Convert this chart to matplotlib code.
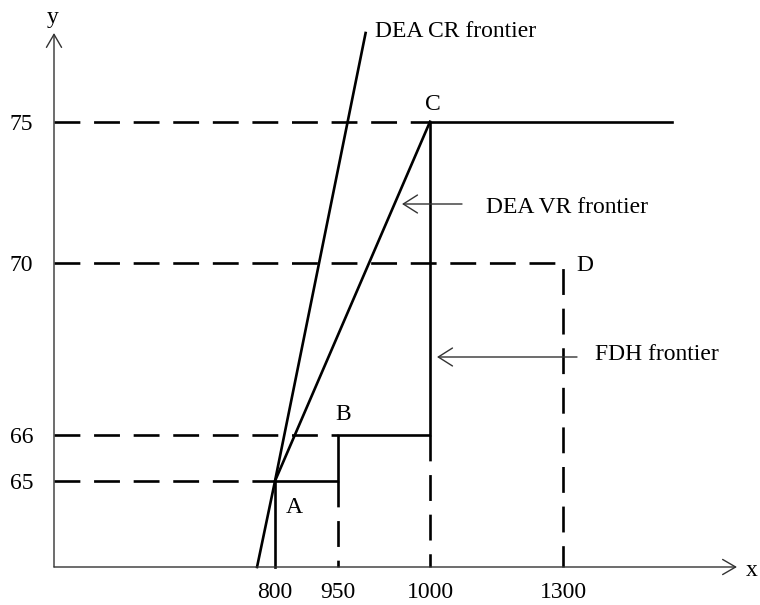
import numpy as np
import matplotlib.pyplot as plt

# point values (input x, output y)
pt_names = ['A', 'B', 'C', 'D']
pt_x = [800, 950, 1000, 1300]
pt_y = [65, 66, 75, 70]

x_ticks = [800, 950, 1000, 1300]
y_ticks = [65, 66, 70, 75]

# frontiers
fdh_x = [800, 800, 950, 950, 1000, 1000, 1500]
fdh_y = [0, 65, 65, 66, 66, 75, 75]
vr_x = [800, 1000]
vr_y = [65, 75]
cr_x = [735, 800, 965]
cr_y = [0, 65, 78.15]

# the diagram is schematic: values -> pixel positions (piecewise)
x_anchor_val = [0, 800, 950, 1000, 1300, 1620]
x_anchor_pos = [54, 275, 338, 430, 563, 737]
y_anchor_val = [0, 65, 66, 70, 75, 78.15]
y_anchor_pos = [38, 124, 170, 342.3, 483.3, 572]

W, H = 760, 605
plt.rcParams['font.family'] = ['Liberation Serif', 'DejaVu Serif']
plt.rcParams['font.size'] = 17

fig = plt.figure(figsize=(W / 100, H / 100), dpi=100)
ax = fig.add_axes([54 / W, 38 / H, (737 - 54) / W, (572 - 38) / H])

ax.set_xscale('function', functions=(lambda v: np.interp(v, x_anchor_val, x_anchor_pos),
                                     lambda p: np.interp(p, x_anchor_pos, x_anchor_val)))
ax.set_yscale('function', functions=(lambda v: np.interp(v, y_anchor_val, y_anchor_pos),
                                     lambda p: np.interp(p, y_anchor_pos, y_anchor_val)))
ax.set_xlim(0, 1620)
ax.set_ylim(0, 78.15)

lw = 1.9
dash = (0, (9.8, 5.2))
A, B, C, D = [(pt_x[i], pt_y[i]) for i in range(4)]

# dashed guide lines
ax.plot([0, A[0]], [A[1], A[1]], color='black', lw=lw, ls=dash, clip_on=False)
ax.plot([0, B[0]], [B[1], B[1]], color='black', lw=lw, ls=dash, clip_on=False)
ax.plot([0, C[0]], [C[1], C[1]], color='black', lw=lw, ls=dash, clip_on=False)
ax.plot([0, D[0], D[0]], [D[1], D[1], 0], color='black', lw=lw, ls=dash, clip_on=False)
ax.plot([B[0], B[0]], [A[1], 0], color='black', lw=lw, ls=dash, clip_on=False)
ax.plot([C[0], C[0]], [B[1], 0], color='black', lw=lw, ls=dash, clip_on=False)

# frontiers
ax.plot(fdh_x, fdh_y, color='black', lw=lw, clip_on=False)
ax.plot(vr_x, vr_y, color='black', lw=lw, clip_on=False)
ax.plot(cr_x, cr_y, color='black', lw=lw, clip_on=False)

ax.set_xticks(x_ticks, [str(v) for v in x_ticks])
ax.set_yticks(y_ticks, [str(v) for v in y_ticks])
ax.tick_params(axis='x', length=0, pad=11)
ax.tick_params(axis='y', length=0, pad=15)
for s in ax.spines.values():
    s.set_visible(False)
ax.patch.set_visible(False)

# axes with open arrow heads
axis_arrow = dict(arrowstyle='->,head_length=0.55,head_width=0.32', color='#333333', lw=1.0,
                  shrinkA=0, shrinkB=0)
ax.annotate('', xy=(0, 1), xytext=(0, 0), xycoords='axes fraction', arrowprops=axis_arrow)
ax.annotate('', xy=(1, 0), xytext=(0, 0), xycoords='axes fraction', arrowprops=axis_arrow)


def fx(x):
    return x / W


def fy(y):
    return 1 - y / H


fig.text(fx(53), fy(17), 'y', ha='center', va='center')
fig.text(fx(752), fy(570), 'x', ha='center', va='center')
fig.text(fx(375), fy(37), 'DEA CR frontier', ha='left', va='baseline')
fig.text(fx(486), fy(213), 'DEA VR frontier', ha='left', va='baseline')
fig.text(fx(595), fy(360), 'FDH frontier', ha='left', va='baseline')

# point labels
lab_pos = {'A': (294, 513), 'B': (343, 420), 'C': (433, 110), 'D': (585, 271)}
for n in pt_names:
    px, py = lab_pos[n]
    fig.text(fx(px), fy(py), n, ha='center', va='baseline')

thin_arrow = dict(arrowstyle='->,head_length=0.6,head_width=0.38', color='#333333', lw=1.0,
                  shrinkA=0, shrinkB=0)
ax.annotate('', xy=(402, H - 204), xytext=(462, H - 204), xycoords='figure pixels',
            textcoords='figure pixels', arrowprops=thin_arrow)
ax.annotate('', xy=(437, H - 357), xytext=(577, H - 357), xycoords='figure pixels',
            textcoords='figure pixels', arrowprops=thin_arrow)

fig.savefig('out.png', dpi=100)
